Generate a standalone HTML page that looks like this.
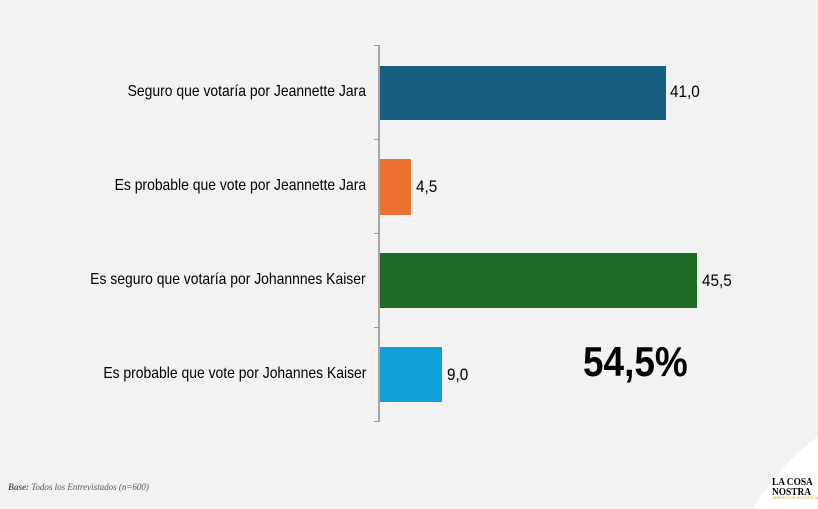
<!DOCTYPE html>
<html style="width:818px;height:509px;overflow:hidden"><head><style>
html,body{margin:0;padding:0}
body{width:818px;height:509px;overflow:hidden;background:#f2f2f2;font-family:"Liberation Sans Narrow","Liberation Sans",sans-serif}
#w{position:relative;width:818px;height:509px;overflow:hidden}
.l{position:absolute;right:452px;font-size:16px;color:#000;white-space:nowrap;transform:scaleX(0.87);transform-origin:right center}
.b{position:absolute;left:380px}
.v{position:absolute;font-size:17px;color:#000;transform:scaleX(0.9);transform-origin:left center}
.t{position:absolute;left:374px;width:5px;height:1px;background:#999}
</style></head><body><div id="w">
<div style="position:absolute;left:720px;top:390px;width:480px;height:480px;border-radius:50%;background:#fff"></div>
<div style="position:absolute;left:378px;top:45px;width:2px;height:377px;background:#a6a6a6"></div>
<div class="t" style="top:45px"></div><div class="t" style="top:139px"></div><div class="t" style="top:233px"></div><div class="t" style="top:327px"></div><div class="t" style="top:421px"></div>
<div class="l" style="top:83px">Seguro que votaría por Jeannette Jara</div>
<div class="l" style="top:177px">Es probable que vote por Jeannette Jara</div>
<div class="l" style="top:271px">Es seguro que votaría por Johannnes Kaiser</div>
<div class="l" style="top:365px">Es probable que vote por Johannes Kaiser</div>
<div class="b" style="top:66px;width:286px;height:54px;background:#175f80"></div>
<div class="b" style="top:159px;width:31px;height:56px;background:#ea7130"></div>
<div class="b" style="top:253px;width:317px;height:55px;background:#1e6b27"></div>
<div class="b" style="top:347px;width:62px;height:55px;background:#129ed6"></div>
<div class="v" style="left:670px;top:82px">41,0</div>
<div class="v" style="left:416px;top:177px">4,5</div>
<div class="v" style="left:702px;top:271px">45,5</div>
<div class="v" style="left:447px;top:365px">9,0</div>
<div style="position:absolute;left:583px;top:338px;font-size:42px;font-weight:bold;transform:scaleX(0.88);transform-origin:left top">54,5%</div>
<div style="position:absolute;left:8px;top:482px;font-size:9px;font-style:italic;color:#555;font-family:'Liberation Serif',serif;white-space:nowrap"><b>Base:</b> Todos los Entrevistados (n=600)</div>
<div style="position:absolute;left:772px;top:477px;font-family:'Liberation Serif',serif;font-weight:bold;font-size:11px;line-height:10px;color:#000;white-space:nowrap;transform:scaleX(0.85);transform-origin:left top">LA COSA<br>NOSTRA</div>
<div style="position:absolute;left:772px;top:496px;font-size:4px;line-height:4px;color:#e0a020;white-space:nowrap">CENTRO DE ENCUESTAS</div>
</div></body></html>
